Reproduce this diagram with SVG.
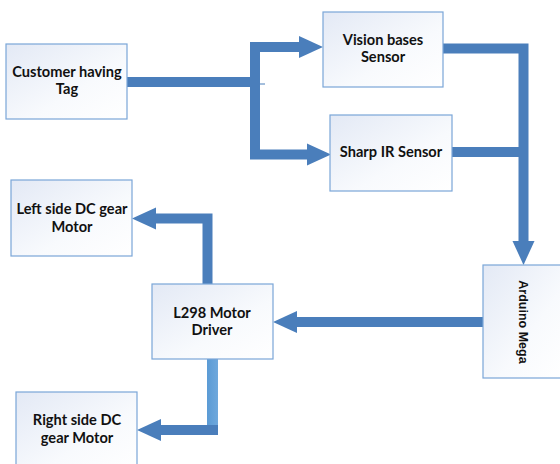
<svg xmlns="http://www.w3.org/2000/svg" width="560" height="464" viewBox="0 0 560 464">
  <defs>
    <linearGradient id="boxFill" x1="0" y1="0" x2="1" y2="1">
      <stop offset="0" stop-color="#E3E9F5"/>
      <stop offset="0.6" stop-color="#F8FAFD"/>
      <stop offset="1" stop-color="#FFFFFF"/>
    </linearGradient>
    <linearGradient id="lightBar" x1="0" y1="0" x2="1" y2="0">
      <stop offset="0" stop-color="#5B9BD5"/>
      <stop offset="1" stop-color="#6FA8DC"/>
    </linearGradient>
    <marker id="head" markerUnits="userSpaceOnUse" markerWidth="24" markerHeight="22" refX="0" refY="11" orient="auto" overflow="visible">
      <path d="M0,0 L24,11 L0,22 Z" fill="#4A7EBB"/>
    </marker>
    <style>
      .box { fill: url(#boxFill); stroke: #7AA6D8; stroke-width: 1.2; }
      .lbl { font-family: Lato, "Liberation Sans", sans-serif; font-weight: bold; font-size: 14.6px; fill: #111; text-anchor: middle; }
      .rot { font-family: "Liberation Sans", Arial, sans-serif; font-weight: bold; font-size: 12.5px; fill: #111; text-anchor: middle; }
      .wire { fill: none; stroke: #4A7EBB; stroke-width: 10; stroke-linejoin: miter; stroke-linecap: butt; }
      .arrow { marker-end: url(#head); }
    </style>
  </defs>

  <!-- connectors -->
  <g id="connectors">
    <path class="wire" d="M127,82 H255"/>
    <path class="wire arrow" d="M255,82 V47 H299"/>
    <path class="wire arrow" d="M255,82 V154.5 H307"/>
    <line x1="245" y1="84" x2="265" y2="84" stroke="#4A7EBB" stroke-width="1"/>
    <path class="wire" d="M452,152 H523.5"/>
    <path class="wire arrow" d="M443,48.5 H523.5 V241"/>
    <path class="wire arrow" d="M483,322 H297"/>
    <path class="wire arrow" d="M207.5,284 V218.5 H156"/>
    <rect x="207" y="359" width="11" height="71" fill="url(#lightBar)"/>
    <path class="wire arrow" d="M218,430 H161"/>
  </g>

  <g id="customer">
    <rect class="box" x="6" y="44" width="121" height="75"/>
    <text class="lbl" x="67" y="77">Customer having</text>
    <text class="lbl" x="67" y="94">Tag</text>
  </g>

  <g id="vision">
    <rect class="box" x="323" y="12" width="120" height="75"/>
    <text class="lbl" x="383" y="45">Vision bases</text>
    <text class="lbl" x="383" y="62">Sensor</text>
  </g>

  <g id="sharp">
    <rect class="box" x="330" y="115" width="122" height="76"/>
    <text class="lbl" x="391" y="157">Sharp IR Sensor</text>
  </g>

  <g id="arduino">
    <rect class="box" x="483" y="265" width="80" height="113"/>
    <text class="rot" transform="translate(519,322) rotate(90)" x="0" y="0">Arduino Mega</text>
  </g>

  <g id="left-motor">
    <rect class="box" x="11" y="180" width="121" height="76"/>
    <text class="lbl" x="72" y="214">Left side DC gear</text>
    <text class="lbl" x="72" y="232">Motor</text>
  </g>

  <g id="driver">
    <rect class="box" x="152" y="284" width="121" height="75"/>
    <text class="lbl" x="212" y="318">L298 Motor</text>
    <text class="lbl" x="212" y="335">Driver</text>
  </g>

  <g id="right-motor">
    <rect class="box" x="16" y="392" width="121" height="80"/>
    <text class="lbl" x="77" y="425">Right side DC</text>
    <text class="lbl" x="77" y="443">gear Motor</text>
  </g>
</svg>
